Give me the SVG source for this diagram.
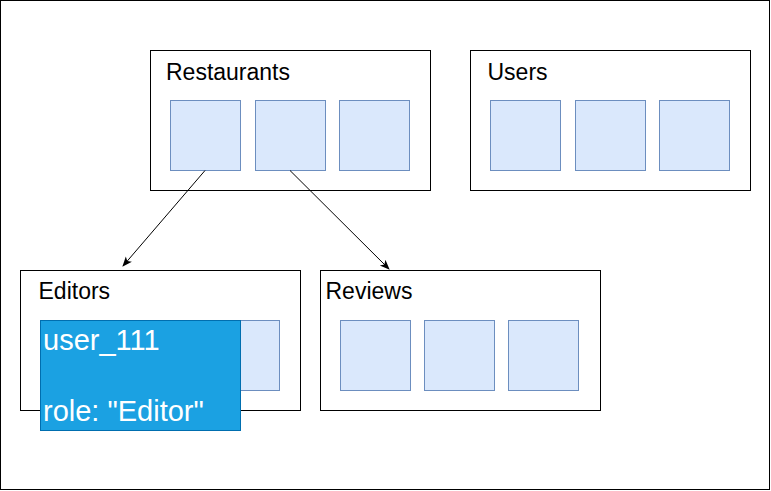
<svg xmlns="http://www.w3.org/2000/svg" width="771" height="491" viewBox="0 0 771 491">
<style>
.frame{fill:#ffffff;stroke:#000000;stroke-width:1}
.cell{fill:#dae8fc;stroke:#6c8ebf;stroke-width:1}
.lbl{font-family:"Liberation Sans",Arial,sans-serif;font-size:23px;fill:#000000}
.doc{fill:#1ba1e2;stroke:#006eaf;stroke-width:1}
.doctext{font-family:"Liberation Sans",Arial,sans-serif;font-size:29px;fill:#ffffff}
.conn{fill:none;stroke:#000000;stroke-width:1}
</style>
<defs>
<marker id="arr" viewBox="0 0 10 10" refX="9" refY="5" markerWidth="10" markerHeight="10" markerUnits="userSpaceOnUse" orient="auto">
<path d="M0,1 L10,5 L0,9 L2.5,5 Z" fill="#000000"/>
</marker>
</defs>
<rect x="0.5" y="0.5" width="769" height="489" fill="#ffffff" stroke="#000000" stroke-width="1"/>
<g id="restaurants">
<rect class="frame" x="150.5" y="50.5" width="280" height="140"/>
<text class="lbl" x="166" y="80">Restaurants</text>
<rect class="cell" x="170.5" y="100.5" width="70" height="70"/>
<rect class="cell" x="255.5" y="100.5" width="70" height="70"/>
<rect class="cell" x="339.5" y="100.5" width="70" height="70"/>
</g>
<g id="users">
<rect class="frame" x="470.5" y="50.5" width="280" height="140"/>
<text class="lbl" x="487.5" y="80">Users</text>
<rect class="cell" x="490.5" y="100.5" width="70" height="70"/>
<rect class="cell" x="575.5" y="100.5" width="70" height="70"/>
<rect class="cell" x="659.5" y="100.5" width="70" height="70"/>
</g>
<g id="editors">
<rect class="frame" x="20.5" y="270.5" width="280" height="140"/>
<text class="lbl" x="38.5" y="299">Editors</text>
<rect class="cell" x="209.5" y="320.5" width="70" height="70"/>
</g>
<g id="reviews">
<rect class="frame" x="320.5" y="270.5" width="280" height="140"/>
<text class="lbl" x="325.5" y="299">Reviews</text>
<rect class="cell" x="340.5" y="320.5" width="70" height="70"/>
<rect class="cell" x="424.5" y="320.5" width="70" height="70"/>
<rect class="cell" x="508.5" y="320.5" width="70" height="70"/>
</g>
<g id="user_111">
<rect class="doc" x="40.5" y="320.5" width="200" height="110"/>
<text class="doctext" x="43" y="350">user_111</text>
<text class="doctext" x="43" y="421">role: "Editor"</text>
</g>
<g id="connectors">
<line class="conn" x1="205" y1="170.5" x2="123" y2="266" marker-end="url(#arr)"/>
<line class="conn" x1="290" y1="170.5" x2="389" y2="269" marker-end="url(#arr)"/>
</g>
</svg>
